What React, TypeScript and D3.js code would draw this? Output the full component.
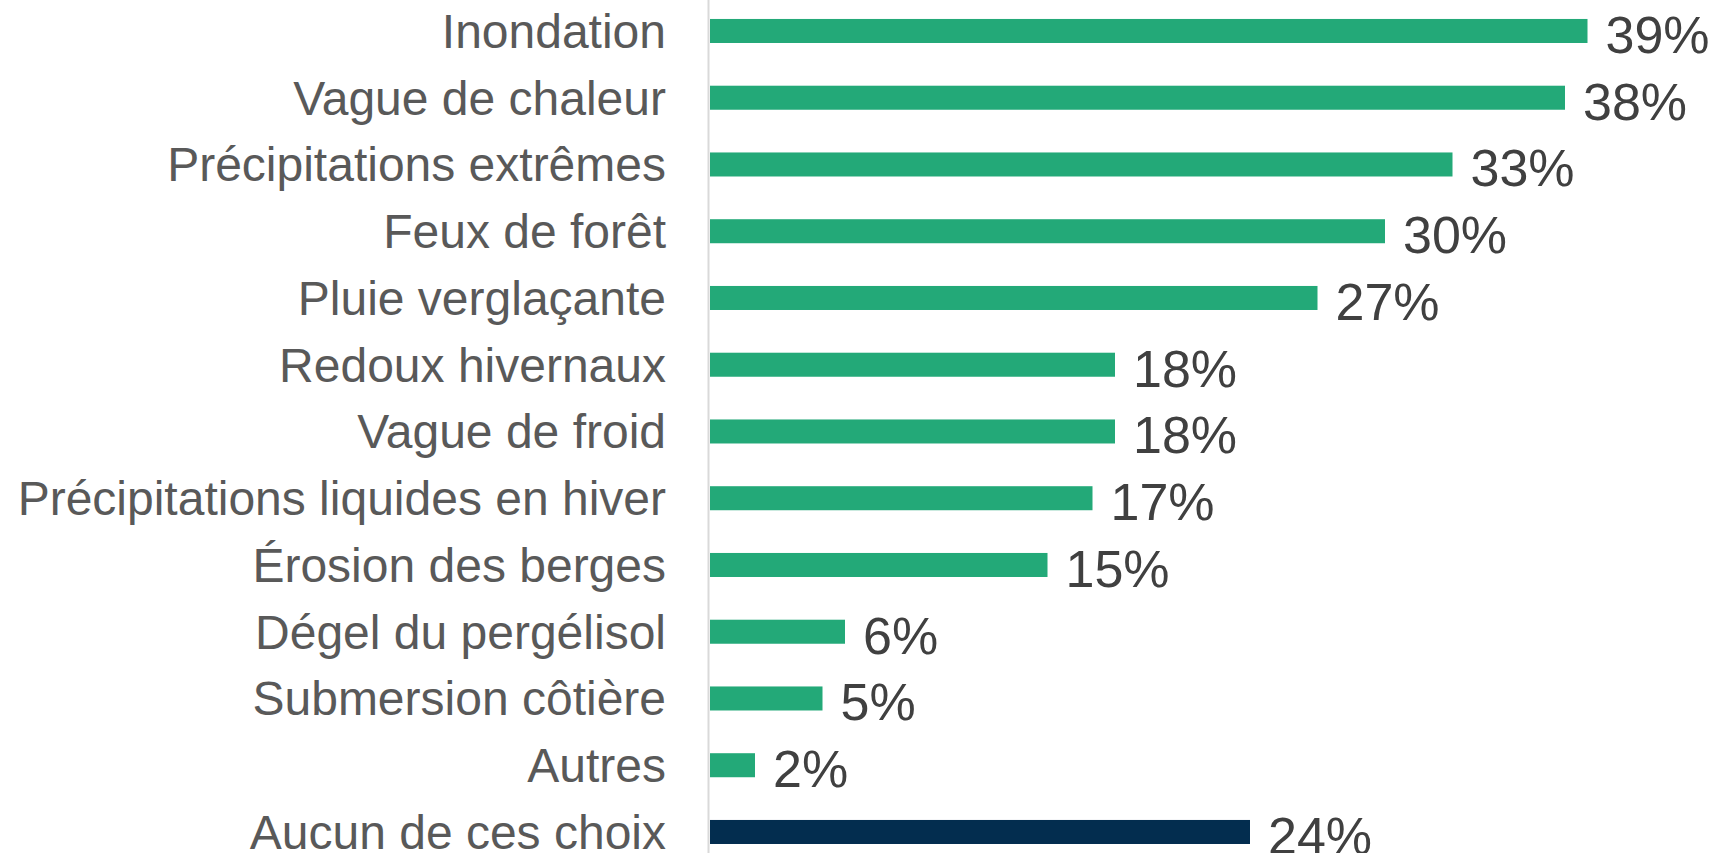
import React from 'react';
import * as d3 from 'd3';

const categories = [
  'Inondation',
  'Vague de chaleur',
  'Précipitations extrêmes',
  'Feux de forêt',
  'Pluie verglaçante',
  'Redoux hivernaux',
  'Vague de froid',
  'Précipitations liquides en hiver',
  'Érosion des berges',
  'Dégel du pergélisol',
  'Submersion côtière',
  'Autres',
  'Aucun de ces choix',
];
const values = [39, 38, 33, 30, 27, 18, 18, 17, 15, 6, 5, 2, 24];
const highlight = ['Aucun de ces choix'];

const W = 1721;
const H = 853;

function App() {
  const xScale = d3.scaleLinear().domain([0, 40]).range([710, 1610]);
  const yScale = d3.scaleBand()
    .domain(categories)
    .range([-2.4, 865.35])
    .paddingInner(0.64)
    .paddingOuter(0.32);

  const data = categories.map((c, i) => ({ category: c, value: values[i] }));

  return (
    <svg width={W} height={H} style={{ position: 'absolute', left: 0, top: 0 }}
      fontFamily="'Liberation Sans', Arial, sans-serif">
      <rect width={W} height={H} fill="#ffffff" />
      <line x1={708.5} x2={708.5} y1={0} y2={H} stroke="#d9d9d9" strokeWidth={2} />
      {data.map((d, i) => {
        const y = yScale(d.category);
        const cy = y + yScale.bandwidth() / 2;
        return (
          <g key={i}>
            <rect
              x={xScale(0)}
              y={y}
              width={xScale(d.value) - xScale(0)}
              height={yScale.bandwidth()}
              fill={highlight.includes(d.category) ? '#032d4f' : '#23a978'}
            />
            <text x={666} y={cy + 17} textAnchor="end" fill="#595959" style={{ fontSize: '48px' }}>
              {d.category}
            </text>
            <text x={xScale(d.value) + 18} y={cy + 22} fill="#404040" style={{ fontSize: '52px' }}>
              {d.value}%
            </text>
          </g>
        );
      })}
    </svg>
  );
}

export default App;
